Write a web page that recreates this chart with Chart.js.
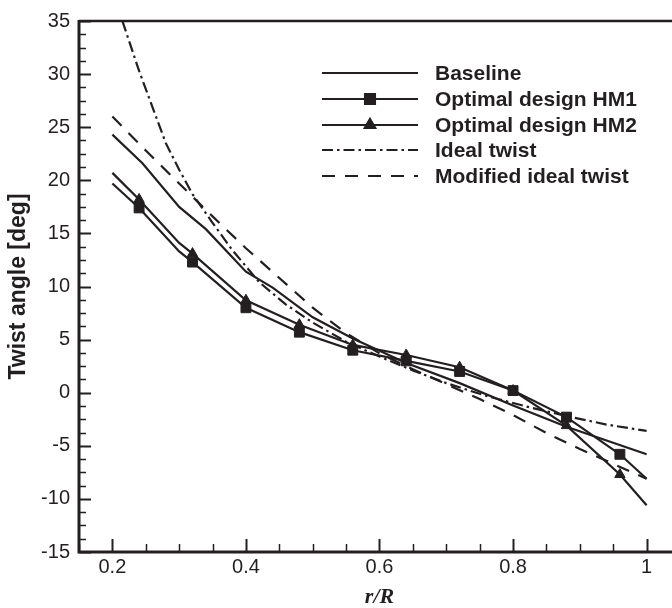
<!DOCTYPE html>
<html>
<head>
<meta charset="utf-8">
<script src="https://cdn.jsdelivr.net/npm/chart.js@4.4.1/dist/chart.umd.min.js"></script>
<style>
    html, body { margin: 0; padding: 0; background: #fff; overflow: hidden; }
    #wrap { width: 680px; height: 608px; }
</style>
</head>
<body>
<div id="wrap"><canvas id="twistChart"></canvas></div>
<script>
// Data
const baseR = [0.2, 0.245, 0.3, 0.34, 0.4, 0.44, 0.5, 0.56, 0.64, 0.72, 0.8, 0.88, 1.0];
const baseline = [24.3, 21.6, 17.5, 15.4, 11.4, 9.9, 7.1, 5.1, 2.8, 0.9, -1.2, -3.2, -5.8];

const hmR = [0.2, 0.24, 0.3, 0.32, 0.4, 0.48, 0.56, 0.64, 0.72, 0.8, 0.88, 0.96, 1.0];
const hm1 = [19.7, 17.4, 13.3, 12.3, 8.0, 5.7, 4.0, 3.0, 2.0, 0.2, -2.3, -5.8, -8.1];
const hm2 = [20.7, 18.2, 14.1, 13.1, 8.7, 6.4, 4.5, 3.55, 2.4, 0.2, -3.1, -7.7, -10.6];
const markerR = [0.24, 0.32, 0.4, 0.48, 0.56, 0.64, 0.72, 0.8, 0.88, 0.96];

const idealR = [0.215, 0.24, 0.26, 0.28, 0.3, 0.32, 0.35, 0.38, 0.42, 0.46, 0.5, 0.55, 0.6, 0.65, 0.7, 0.76, 0.82, 0.88, 0.94, 1.0];
const ideal = [35, 30.3, 26.9, 23.5, 21.0, 18.7, 16.0, 13.4, 10.4, 8.3, 6.6, 4.8, 3.4, 2.1, 0.9, -0.3, -1.3, -2.2, -3.0, -3.6];

const modR = [0.2, 0.25, 0.3, 0.35, 0.4, 0.45, 0.5, 0.55, 0.6, 0.65, 0.7, 0.75, 0.8, 0.85, 0.9, 0.95, 1.0];
const modIdeal = [26.0, 22.8, 19.7, 16.6, 13.6, 10.8, 8.0, 5.6, 3.7, 2.2, 0.8, -0.6, -2.1, -3.8, -5.3, -6.7, -8.1];

const xTicks = [0.2, 0.4, 0.6, 0.8, 1];
const yTicks = [-15, -10, -5, 0, 5, 10, 15, 20, 25, 30, 35];
const labels = ['Baseline', 'Optimal design HM1', 'Optimal design HM2', 'Ideal twist', 'Modified ideal twist'];

const INK = '#231f20';

function pts(xs, ys) {
    return xs.map((x, i) => ({ x: x, y: ys[i] }));
}
function markerSizes(xs, r) {
    return xs.map(x => markerR.includes(x) ? r : 0);
}

// Frame with inward major/minor ticks
const framePlugin = {
    id: 'frame',
    afterDatasetsDraw(chart) {
        const { ctx, chartArea: a, scales: { x, y } } = chart;
        ctx.save();
        ctx.strokeStyle = INK;
        ctx.lineCap = 'butt';

        for (let v = 0.15; v < 1.06; v += 0.05) {
            const px = Math.round(x.getPixelForValue(v)) + 0.5;
            const major = xTicks.some(t => Math.abs(t - v) < 1e-6);
            ctx.beginPath();
            ctx.moveTo(px, a.bottom);
            ctx.lineTo(px, a.bottom - (major ? 13 : 8));
            ctx.lineWidth = major ? 2 : 1.5;
            ctx.stroke();
        }
        for (let v = -15; v <= 35.001; v += 1.25) {
            const py = Math.round(y.getPixelForValue(v)) + 0.5;
            const major = yTicks.some(t => Math.abs(t - v) < 1e-6);
            ctx.beginPath();
            ctx.moveTo(a.left, py);
            ctx.lineTo(a.left + (major ? 12 : 7), py);
            ctx.lineWidth = major ? 2 : 1.5;
            ctx.stroke();
        }

        ctx.lineWidth = 2.5;
        ctx.beginPath();
        ctx.moveTo(a.left, a.top);
        ctx.lineTo(a.right, a.top);
        ctx.stroke();
        ctx.lineWidth = 3;
        ctx.beginPath();
        ctx.moveTo(a.left, a.top - 1);
        ctx.lineTo(a.left, a.bottom);
        ctx.lineTo(a.right, a.bottom);
        ctx.stroke();
        ctx.restore();
    }
};

// Legend drawn inside the plot
const legendPlugin = {
    id: 'insideLegend',
    afterDraw(chart) {
        const ctx = chart.ctx;
        const x0 = 322, x1 = 418, tx = 435;
        const rows = [73, 99, 125, 150, 176];
        ctx.save();
        chart.data.datasets.forEach((ds, i) => {
            const yy = rows[i];
            ctx.strokeStyle = INK;
            ctx.lineWidth = 2.2;
            ctx.setLineDash(ds.borderDash || []);
            ctx.beginPath();
            ctx.moveTo(x0, yy);
            ctx.lineTo(x1, yy);
            ctx.stroke();
            ctx.setLineDash([]);
            if (ds.pointStyle === 'rect' || ds.pointStyle === 'triangle') {
                ctx.fillStyle = INK;
                Chart.helpers.drawPoint(ctx, {
                    pointStyle: ds.pointStyle,
                    radius: ds.pointStyle === 'rect' ? 7 : 6,
                    rotation: 0,
                    borderWidth: 1
                }, (x0 + x1) / 2, yy);
            }
            ctx.fillStyle = INK;
            ctx.font = 'bold 21px "Liberation Sans", Arial, sans-serif';
            ctx.textBaseline = 'middle';
            ctx.textAlign = 'left';
            ctx.fillText(labels[i], tx, yy + 1);
        });
        ctx.restore();
    }
};

const lineBase = {
    showLine: true,
    borderColor: INK,
    backgroundColor: INK,
    pointBorderColor: INK,
    pointBackgroundColor: INK,
    borderWidth: 2.2,
    pointBorderWidth: 1,
    tension: 0
};

const ctx = document.getElementById('twistChart').getContext('2d');
new Chart(ctx, {
    type: 'scatter',
    data: {
        datasets: [
            { ...lineBase, label: labels[0], data: pts(baseR, baseline), pointRadius: 0 },
            { ...lineBase, label: labels[1], data: pts(hmR, hm1), pointStyle: 'rect', pointRadius: markerSizes(hmR, 7) },
            { ...lineBase, label: labels[2], data: pts(hmR, hm2), pointStyle: 'triangle', pointRadius: markerSizes(hmR, 6) },
            { ...lineBase, label: labels[3], data: pts(idealR, ideal), pointRadius: 0, borderDash: [11, 4, 2.5, 4] },
            { ...lineBase, label: labels[4], data: pts(modR, modIdeal), pointRadius: 0, borderDash: [13, 10] }
        ]
    },
    options: {
        responsive: true,
        maintainAspectRatio: false,
        animation: false,
        events: [],
        layout: { padding: { top: 19, right: 0, bottom: 0, left: 0 } },
        plugins: {
            legend: { display: false },
            tooltip: { enabled: false }
        },
        scales: {
            x: {
                type: 'linear',
                min: 0.15,
                max: 1.05,
                afterBuildTicks: scale => { scale.ticks = xTicks.map(v => ({ value: v })); },
                afterFit: scale => { scale.height = 56; },
                grid: { display: false, drawTicks: false },
                border: { display: false },
                ticks: {
                    padding: 3,
                    color: INK,
                    font: { family: '"Liberation Sans", Arial, sans-serif', size: 20 },
                    callback: v => String(v)
                },
                title: {
                    display: true,
                    text: 'r/R',
                    color: INK,
                    padding: { top: 0, bottom: 0 },
                    font: { family: '"Liberation Serif", "Times New Roman", serif', size: 22, style: 'italic', weight: 'bold', lineHeight: 1 }
                }
            },
            y: {
                type: 'linear',
                min: -15,
                max: 35,
                afterBuildTicks: scale => { scale.ticks = yTicks.map(v => ({ value: v })); },
                afterFit: scale => { scale.width = 79; },
                grid: { display: false, drawTicks: false },
                border: { display: false },
                ticks: {
                    padding: 9,
                    color: INK,
                    font: { family: '"Liberation Sans", Arial, sans-serif', size: 20 }
                },
                title: {
                    display: true,
                    text: 'Twist angle [deg]',
                    color: INK,
                    padding: { top: 5, bottom: 0 },
                    font: { family: '"Liberation Sans", Arial, sans-serif', size: 23, weight: 'bold', lineHeight: 1.2 }
                }
            }
        }
    },
    plugins: [framePlugin, legendPlugin]
});
</script>
</body>
</html>
